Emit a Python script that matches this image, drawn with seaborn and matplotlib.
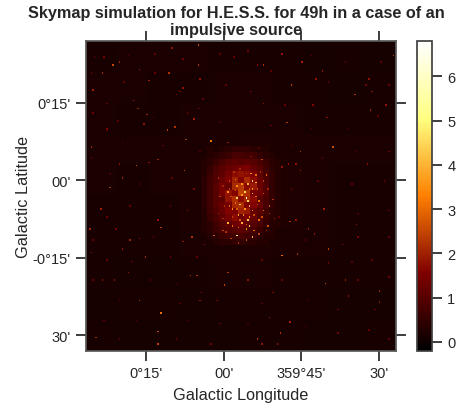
import numpy as np
import matplotlib
matplotlib.use('Agg')
import matplotlib.pyplot as plt
import seaborn as sns

# Local mean level of the map (coarse, 20 map cells per value)
background = [
    [.14, .18, .18, .16, .14, .14, .14, .12, .14, .12],
    [.18, .16, .14, .14, .16, .16, .14, .14, .12, .14],
    [.18, .14, .14, .16, .16, .16, .16, .14, .14, .14],
    [.16, .16, .16, .16, .20, .22, .20, .16, .16, .16],
    [.16, .14, .16, .20, .24, .26, .22, .16, .14, .14],
    [.14, .14, .14, .20, .24, .26, .22, .18, .14, .14],
    [.14, .14, .14, .16, .20, .22, .20, .16, .14, .14],
    [.14, .12, .12, .14, .16, .16, .14, .14, .14, .14],
    [.12, .14, .14, .12, .14, .14, .14, .14, .12, .12],
    [.14, .12, .12, .12, .12, .14, .14, .12, .12, .14],
]

# Source region, 4 map cells per value, starts at cell (74, 68)
blob = [
    [.2, .3, .2, .3, .4, .5, .5, .5, .4, .3, .3, .2, .2],
    [.2, .3, .4, .5, .6, .8, .8, .7, .7, .5, .4, .3, .2],
    [.3, .4, .6, .8, 1.0, 1.1, 1.0, 1.1, 1.0, .8, .6, .4, .3],
    [.3, .5, .8, 1.0, 1.2, 1.3, 1.4, 1.5, 1.2, 1.0, .7, .4, .3],
    [.3, .6, .9, 1.1, 1.4, 1.7, 1.8, 1.7, 1.5, 1.1, .8, .5, .3],
    [.4, .7, .9, 1.2, 1.5, 2.0, 1.6, 2.1, 1.7, 1.2, .8, .5, .3],
    [.4, .7, 1.0, 1.4, 1.2, 2.1, 2.3, 1.7, 1.9, 1.3, .9, .5, .3],
    [.4, .7, 1.0, 1.4, 1.8, 1.6, 2.4, 2.2, 1.4, 1.3, .9, .5, .3],
    [.4, .7, 1.0, 1.1, 1.8, 2.2, 1.7, 2.1, 1.7, 1.0, .8, .5, .3],
    [.4, .7, 1.0, 1.3, 1.4, 2.1, 2.2, 1.6, 1.6, 1.2, .8, .5, .3],
    [.3, .7, .9, 1.2, 1.6, 1.5, 2.0, 1.9, 1.2, 1.0, .7, .4, .3],
    [.3, .6, .8, 1.1, 1.4, 1.7, 1.3, 1.6, 1.2, .9, .6, .4, .3],
    [.3, .4, .7, .9, 1.1, 1.3, 1.4, 1.2, 1.0, .8, .5, .3, .3],
    [.3, .4, .6, .8, .9, 1.0, 1.1, .9, .8, .6, .4, .3, .2],
    [.2, .3, .4, .6, .7, .7, .8, .7, .6, .4, .3, .3, .2],
    [.2, .2, .3, .4, .4, .5, .5, .4, .4, .3, .3, .2, .2],
]

# Brightest single cells
hot_cols = [72, 55, 17, 21, 10, 34, 53, 72, 40, 4, 62, 58, 30, 33, 39, 72, 69, 57, 52, 37, 80, 64, 32, 21, 46, 63, 15, 23, 40, 13, 3, 73, 91,
            114, 126, 139, 132, 148, 173, 184, 129, 155, 159, 138, 113, 106, 130, 135, 182, 183, 193, 114, 146, 181, 126, 138, 198, 152, 110,
            9, 65, 46, 48, 2, 28, 34, 23, 38, 3, 68, 62, 82, 76, 27, 10, 18, 67, 71, 91, 89, 74, 34, 48, 46, 46, 6, 73,
            131, 135, 126, 156, 136, 154, 167, 169, 131, 125, 118, 189, 153, 174, 123, 113, 110, 147, 165, 171, 104, 189, 120, 143,
            103, 97, 99, 104, 107, 104, 102, 107, 105, 98, 104, 100, 105, 91, 97, 107, 91, 106, 109, 116, 109, 114, 107, 96, 94, 102, 100, 111,
            118, 103, 94, 111, 97, 107, 100, 105, 101, 96, 109, 92, 114, 108, 88, 117]
hot_rows = [2, 4, 15, 13, 20, 18, 20, 15, 25, 31, 30, 34, 38, 43, 47, 43, 50, 55, 57, 53, 64, 63, 80, 79, 76, 83, 94, 88, 78, 56, 68, 24, 65,
            15, 8, 13, 28, 24, 34, 32, 52, 49, 68, 71, 76, 74, 79, 79, 24, 44, 41, 40, 41, 79, 81, 83, 9, 19, 15,
            108, 109, 115, 120, 121, 128, 127, 134, 139, 136, 126, 129, 125, 131, 149, 154, 154, 151, 151, 149, 157, 162, 167, 175, 187, 195, 191, 167,
            116, 115, 138, 134, 137, 156, 154, 164, 181, 188, 178, 161, 108, 118, 195, 195, 192, 124, 131, 142, 154, 168, 162, 121,
            101, 101, 105, 103, 90, 92, 97, 98, 106, 112, 115, 117, 119, 117, 125, 126, 97, 85, 91, 86, 86, 109, 109, 89, 108, 108, 92, 103,
            106, 121, 119, 115, 93, 95, 99, 113, 112, 104, 100, 106, 98, 122, 122, 119]
hot_vals = [2.5, 1.8, 2.5, 2, 2, 2, 2.2, 2.2, 2, 2, 1.8, 1.6, 2, 2, 2, 1.8, 2, 2.2, 2.4, 1.8, 3, 2.2, 2.6, 1.8, 2, 2.4, 2.2, 2, 1.8, 1.6, 2, 1.8, 1.8,
            2.2, 1.8, 2, 2.4, 1.8, 2.2, 1.8, 2.2, 1.8, 2.6, 2.2, 2.4, 1.8, 1.8, 1.8, 1.8, 2, 1.8, 1.8, 1.6, 1.8, 1.8, 2, 2.4, 1.8, 1.8,
            2, 1.8, 1.8, 2.4, 2, 2, 1.8, 1.8, 2, 1.8, 2.2, 1.8, 2.6, 1.8, 1.8, 1.8, 1.8, 2.2, 2.2, 2.2, 2.4, 1.8, 2.2, 3, 2.4, 2.4, 2.2, 1.8,
            2.2, 1.8, 3, 2.4, 2.2, 2.6, 2, 1.8, 2, 2.2, 2, 2, 2, 1.8, 2, 1.8, 2.2, 1.8, 1.8, 1.6, 1.8, 1.8, 1.6, 1.8,
            6.5, 4.5, 4.5, 4.5, 4.5, 4, 4.5, 4, 4, 4, 4.5, 4, 4.5, 4, 5, 4, 3.5, 3.5, 4, 3, 3, 3, 3.5, 3, 3.5, 3.5, 3.5, 3,
            2.6, 3.5, 3, 3, 3.5, 3.5, 3.5, 3.5, 3.5, 3, 3, 3, 2.6, 3, 2.6, 2.6]

# Dimmer cells picked out of the same crops
dim_cols = [5, 11, 27, 44, 62, 86, 95, 3, 24, 44, 60, 75, 90, 13, 4, 20, 43, 65, 86, 13, 23, 49, 73, 3, 15, 34, 55, 69,
            104, 119, 145, 167, 190, 106, 128, 156, 180, 195, 119, 145, 169, 188, 111, 132, 152, 174, 195, 149, 171, 192, 132,
            13, 28, 54, 4, 19, 43, 13, 29, 54, 71, 4, 41, 58, 21, 60, 84, 11, 32, 65, 86, 21, 58, 80,
            124, 147, 175, 195, 141, 175, 195, 113, 156, 184, 126, 175, 195, 113, 143, 162, 186, 104, 141, 162, 182, 195,
            85, 88, 86, 89, 85, 88, 92, 95, 99, 103, 112, 114, 117, 120, 118, 121, 113, 116, 111, 103, 98, 93, 90, 96, 93, 105, 110, 97, 99, 103, 108, 101, 94, 110, 98, 92]
dim_rows = [10, 10, 9, 8, 11, 8, 10, 20, 26, 20, 32, 37, 28, 40, 46, 51, 49, 46, 52, 57, 65, 67, 71, 75, 85, 92, 88, 95,
            6, 19, 9, 13, 13, 32, 41, 26, 28, 28, 54, 56, 56, 48, 69, 67, 75, 71, 71, 90, 92, 90, 95,
            113, 106, 106, 128, 121, 126, 141, 142, 139, 139, 154, 154, 156, 167, 169, 167, 180, 180, 180, 182, 192, 192, 195,
            113, 109, 111, 109, 128, 126, 126, 141, 143, 141, 154, 154, 152, 169, 167, 173, 173, 182, 184, 188, 186, 192,
            88, 93, 100, 106, 111, 114, 90, 84, 82, 85, 84, 90, 95, 102, 111, 114, 113, 122, 124, 128, 130, 127, 123, 96, 100, 95, 105, 108, 115, 118, 112, 94, 113, 95, 120, 95]
dim_vals = [1.2, 1.4, 1.1, 1.2, 1.3, 1.1, 1.2, 1.3, 1.1, 1.2, 1.4, 1.1, 1.2, 1.2, 1.3, 1.1, 1.2, 1.4, 1.1, 1.2, 1.3, 1.2, 1.1, 1.2, 1.3, 1.1, 1.2, 1.4,
            1.3, 1.1, 1.2, 1.2, 1.1, 1.4, 1.2, 1.1, 1.3, 1.2, 1.2, 1.1, 1.3, 1.2, 1.4, 1.2, 1.1, 1.2, 1.3, 1.1, 1.2, 1.2, 1.3,
            1.2, 1.3, 1.1, 1.2, 1.4, 1.1, 1.2, 1.3, 1.2, 1.1, 1.2, 1.2, 1.3, 1.1, 1.2, 1.4, 1.2, 1.1, 1.3, 1.2, 1.1, 1.2, 1.3,
            1.2, 1.1, 1.3, 1.2, 1.2, 1.4, 1.1, 1.2, 1.3, 1.1, 1.2, 1.2, 1.3, 1.1, 1.2, 1.4, 1.2, 1.1, 1.2, 1.3, 1.2, 1.1,
            2.2, 2, 2.4, 2.2, 2, 2.2, 2.4, 2.2, 2, 2.4, 2.2, 2.4, 2, 2.2, 2.4, 2, 2.6, 2.2, 2.4, 2.6, 2.2, 2.4, 2.2, 2.8, 2.6, 2.8, 2.6, 2.8, 2.8, 2.8, 2.6, 2.8, 2.4, 2.6, 2.8, 2.4]

# Map geometry in arcmin
arcmin_per_cell = 0.3
lon_left = 26.7
lat_top = 27.0
lon_ticks = [15, 0, -15, -30]
lon_labels = ["0°15'", "00'", "359°45'", "30'"]
lat_ticks = [15, 0, -15, -30]
lat_labels = ["0°15'", "00'", "-0°15'", "30'"]

sns.set_theme(style='ticks')
plt.rcParams['font.family'] = ['Liberation Sans', 'DejaVu Sans']

# Build the map
grid = np.kron(np.array(background), np.ones((20, 20)))
grid[68:132, 74:126] = np.kron(np.array(blob), np.ones((4, 4)))
grid[dim_rows, dim_cols] = dim_vals
grid[hot_rows, hot_cols] = hot_vals

W, H = 459, 410
fig = plt.figure(figsize=(W / 100, H / 100), dpi=100)
ax = fig.add_axes([86 / W, (H - 351.7) / H, 310 / W, 309.7 / H])
cax = fig.add_axes([417 / W, (H - 351.7) / H, 15 / W, 309.7 / H])

sns.heatmap(grid, ax=ax, cbar_ax=cax, cmap='afmhot', vmin=-0.2, vmax=6.8,
            xticklabels=False, yticklabels=False, square=False)

ax.set_xticks([(lon_left - v) / arcmin_per_cell for v in lon_ticks])
ax.set_xticklabels(lon_labels, rotation=0)
ax.set_yticks([(lat_top - v) / arcmin_per_cell for v in lat_ticks])
ax.set_yticklabels(lat_labels, rotation=0)
ax.tick_params(axis='both', length=7, width=1.25, labelsize=10.5, colors='.15',
               top=True, right=True, bottom=True, left=True, pad=4)
ax.set_xlabel('Galactic Longitude', fontsize=11.7, color='.15', labelpad=5)
ax.set_ylabel('Galactic Latitude', fontsize=11.7, color='.15', labelpad=1)

for s in ax.spines.values():
    s.set_visible(True)
    s.set_color('.35')
    s.set_linewidth(1.25)

cb = ax.collections[0].colorbar
cb.set_ticks([0, 1, 2, 3, 4, 5, 6])
cb.ax.tick_params(length=7, width=1.25, labelsize=10.5, colors='.15', pad=4)
cb.outline.set_visible(True)
cb.outline.set_edgecolor('.25')
cb.outline.set_linewidth(1.25)

fig.text(236 / W, 1 - 22 / H, 'Skymap simulation for H.E.S.S. for 49h in a case of an\nimpulsive source',
         ha='center', va='center', fontsize=11.7, fontweight='bold', color='.15', linespacing=1.1)

fig.savefig('out.png', dpi=100)
